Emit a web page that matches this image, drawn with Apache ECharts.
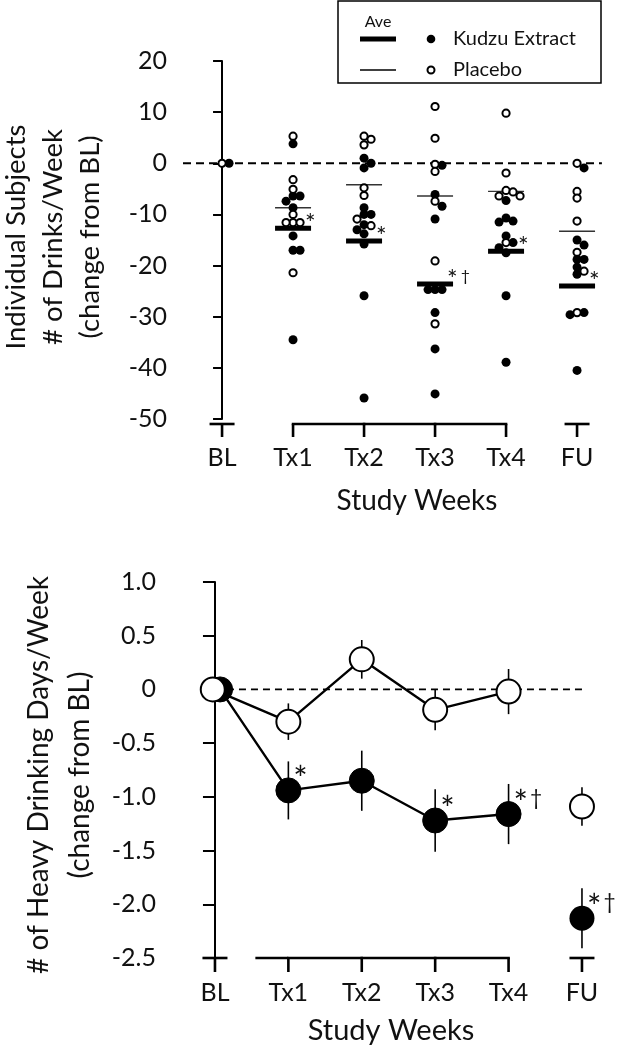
<!DOCTYPE html>
<html><head><meta charset="utf-8">
<script src="https://cdn.jsdelivr.net/npm/echarts@6/dist/echarts.min.js"></script>
<style>html,body{margin:0;padding:0;background:#fff}#c{width:619px;height:1050px}</style>
</head><body><div id="c"></div>
<script>
// ---------------- data ----------------
const weeks = ['BL', 'Tx1', 'Tx2', 'Tx3', 'Tx4', 'FU'];

// Top panel: individual subjects, change in # of drinks/week from BL
const kudzuDrinks = [
  [0],
  [3.8, -6.4, -6.4, -7.4, -8.7, -14.2, -17, -17, -34.5],
  [1.0, 0, -0.9, -8.7, -10, -10, -12, -13, -13.8, -15.8, -25.9, -45.9],
  [-0.4, -6.1, -8.4, -10.9, -24.7, -24.7, -24.7, -29.2, -36.3, -45.1],
  [-7.3, -10.7, -11.3, -11.5, -14.2, -15.5, -16.5, -17.5, -25.9, -38.9],
  [-0.9, -15, -16, -18.8, -18.8, -20.3, -21.7, -29.2, -29.6, -40.5]
];
const placeboDrinks = [
  [0],
  [5.3, -3.2, -5.1, -10, -11.6, -11.6, -11.6, -21.4],
  [5.3, 4.7, 3.6, -4.8, -6.3, -10.9, -12.2],
  [11.1, 4.9, -0.2, -1.6, -7.4, -19.1, -31.4],
  [9.8, -1.9, -5.3, -5.6, -6.4, -6.4, -15.5],
  [0, -5.5, -6.8, -11.3, -17.4, -21.1, -29.2]
];
const kudzuDrinksAve = [null, -12.7, -15.2, -23.6, -17.2, -24.0];
const placeboDrinksAve = [null, -8.7, -4.2, -6.4, -5.5, -13.3];
const drinksMarks = ['', '*', '*', '*†', '*', '*'];

// Bottom panel: heavy drinking days/week, change from BL (mean ± SEM)
const kudzuHDD = [0, -0.94, -0.85, -1.22, -1.16, -2.13];
const kudzuHDDErr = [0.27, 0.27, 0.28, 0.29, 0.28, 0.28];
const placeboHDD = [0, -0.30, 0.28, -0.19, -0.02, -1.09];
const placeboHDDErr = [0.28, 0.17, 0.18, 0.19, 0.21, 0.18];
const hddMarks = ['', '*', '', '*', '*†', '*†'];

// ---------------- layout / style ----------------
const FONT = 'Lato';
const INK = '#000';
const TXT = '#111';
const TOP = { left: 183, top: 61, height: 358, xMin: -0.55, xMax: 5.35, yMin: -50, yMax: 20, yInt: 10, unitPx: 71 };
const BOT = { left: 179, top: 582, height: 376, xMin: -0.49, xMax: 5.5, yMin: -2.5, yMax: 1.0, yInt: 0.5, unitPx: 73.4 };
TOP.width = (TOP.xMax - TOP.xMin) * TOP.unitPx;
BOT.width = (BOT.xMax - BOT.xMin) * BOT.unitPx;
const LAST = weeks.length - 1;

// beeswarm spread of the individual points (pixel offsets)
const PX_PER_UNIT = TOP.height / (TOP.yMax - TOP.yMin);
const SW_STEP = 7, SW_MIN = 6.2;
function buildSwarm() {
  const out = [];
  weeks.forEach((w, i) => {
    const items = [];
    placeboDrinks[i].forEach(v => items.push({ v, g: 0 }));
    kudzuDrinks[i].forEach(v => items.push({ v, g: 1 }));
    const order = items.slice().sort((a, b) => b.v - a.v);
    const placed = [];
    order.forEach(it => {
      const cands = [0, 1, -1, 2, -2, 3, -3, 4, -4];
      it.off = 0;
      for (const c of cands) {
        const off = c * SW_STEP;
        if (placed.every(q => Math.hypot(q.off - off, (q.v - it.v) * PX_PER_UNIT) >= SW_MIN)) { it.off = off; break; }
      }
      placed.push(it);
    });
    items.forEach(it => out.push([i, it.v, it.off, it.g]));
  });
  out.sort((a, b) => b[3] - a[3]); // filled first, open drawn on top
  return out;
}

function axisDeco(xi, yi, yBase, drop, tickLen, labelDy, leftExt, labelSize) {
  return {
    type: 'custom', xAxisIndex: xi, yAxisIndex: yi, silent: true, z: 1,
    data: weeks.map((w, i) => [i]),
    encode: { x: 0 },
    renderItem(params, api) {
      const i = params.dataIndex;
      const p = api.coord([i, yBase]);
      const x = p[0], y = p[1] + drop;
      const ls = { stroke: INK, lineWidth: 2.6 };
      const ch = [];
      ch.push({ type: 'line', shape: { x1: x, y1: y, x2: x, y2: y + tickLen }, style: ls });
      if (i === 0 || i === LAST) {
        ch.push({ type: 'line', shape: { x1: x - 12.5, y1: y, x2: x + 12.5, y2: y }, style: ls });
      } else {
        if (i < LAST - 1) {
          const q = api.coord([i + 1, yBase]);
          ch.push({ type: 'line', shape: { x1: x - 1.3, y1: y, x2: q[0] + 1.3, y2: y }, style: ls });
        }
        if (i === 1 && leftExt) {
          ch.push({ type: 'line', shape: { x1: x - leftExt, y1: y, x2: x, y2: y }, style: ls });
        }
      }
      ch.push({ type: 'text', style: { text: weeks[i], x: x, y: y + labelDy, align: 'center', verticalAlign: 'middle', font: labelSize + 'px ' + FONT, fill: TXT } });
      return { type: 'group', children: ch };
    }
  };
}

const yAxisCommon = (o) => ({
  type: 'value', gridIndex: o.g, min: o.min, max: o.max, interval: o.int,
  axisLine: { show: true, lineStyle: { color: INK, width: 2 } },
  axisTick: { show: true, length: o.tick, lineStyle: { color: INK, width: 2 } },
  splitLine: { show: false },
  axisLabel: { margin: o.margin, fontFamily: FONT, fontSize: o.fs, color: TXT, formatter: o.fmt }
});

const swarmData = buildSwarm();

const option = {
  animation: false,
  backgroundColor: '#fff',
  grid: [
    { left: TOP.left, top: TOP.top, width: TOP.width, height: TOP.height },
    { left: BOT.left, top: BOT.top, width: BOT.width, height: BOT.height }
  ],
  xAxis: [
    { type: 'value', gridIndex: 0, min: TOP.xMin, max: TOP.xMax, show: false },
    { type: 'value', gridIndex: 1, min: BOT.xMin, max: BOT.xMax, show: false }
  ],
  yAxis: [
    yAxisCommon({ g: 0, min: TOP.yMin, max: TOP.yMax, int: TOP.yInt, tick: 9, margin: 16, fs: 25, fmt: v => String(v) }),
    yAxisCommon({ g: 1, min: BOT.yMin, max: BOT.yMax, int: BOT.yInt, tick: 12, margin: 23, fs: 25, fmt: v => (v === 0 ? '0' : v.toFixed(1)) })
  ],
  graphic: [
    { type: 'text', x: 53, y: 237, rotation: Math.PI / 2,
      style: { text: 'Individual Subjects\n# of Drinks/Week\n(change from BL)', align: 'center', verticalAlign: 'middle', font: '27.5px ' + FONT, lineHeight: 37, fill: TXT } },
    { type: 'text', x: 59, y: 775, rotation: Math.PI / 2,
      style: { text: '# of Heavy Drinking Days/Week\n(change from BL)', align: 'center', verticalAlign: 'middle', font: '28px ' + FONT, lineHeight: 41, fill: TXT } },
    { type: 'text', x: 417, y: 501, style: { text: 'Study Weeks', align: 'center', verticalAlign: 'middle', font: '28px ' + FONT, fill: TXT } },
    { type: 'text', x: 391, y: 1031, style: { text: 'Study Weeks', align: 'center', verticalAlign: 'middle', font: '29px ' + FONT, fill: TXT } },
    { type: 'group', children: [
      { type: 'rect', shape: { x: 338, y: 1, width: 263, height: 82 }, style: { fill: '#fff', stroke: INK, lineWidth: 1.5 } },
      { type: 'text', style: { text: 'Ave', x: 378, y: 22, align: 'center', verticalAlign: 'middle', font: '16px ' + FONT, fill: TXT } },
      { type: 'line', shape: { x1: 360, y1: 39, x2: 396, y2: 39 }, style: { stroke: INK, lineWidth: 5 } },
      { type: 'line', shape: { x1: 360, y1: 70, x2: 396, y2: 70 }, style: { stroke: INK, lineWidth: 1.3 } },
      { type: 'circle', shape: { cx: 431, cy: 39, r: 4.3 }, style: { fill: INK } },
      { type: 'circle', shape: { cx: 431, cy: 70, r: 3.5 }, style: { fill: '#fff', stroke: INK, lineWidth: 2 } },
      { type: 'text', style: { text: 'Kudzu Extract', x: 453, y: 39, align: 'left', verticalAlign: 'middle', font: '20px ' + FONT, fill: TXT } },
      { type: 'text', style: { text: 'Placebo', x: 453, y: 70, align: 'left', verticalAlign: 'middle', font: '20px ' + FONT, fill: TXT } }
    ] }
  ],
  series: [
    // ---- top panel ----
    { type: 'line', xAxisIndex: 0, yAxisIndex: 0, data: [[TOP.xMin, 0], [TOP.xMax, 0]], symbol: 'none', silent: true, z: 1,
      lineStyle: { color: INK, width: 2, type: [8, 5] } },
    axisDeco(0, 0, TOP.yMin, 5, 13, 33.5, 0, 25),
    { // average bars
      type: 'custom', xAxisIndex: 0, yAxisIndex: 0, z: 2,
      data: weeks.map((w, i) => [i, kudzuDrinksAve[i], placeboDrinksAve[i]]),
      encode: { x: 0, y: [1, 2] },
      renderItem(params, api) {
        const i = params.dataIndex;
        if (kudzuDrinksAve[i] == null) return null;
        const pk = api.coord([i, kudzuDrinksAve[i]]);
        const pp = api.coord([i, placeboDrinksAve[i]]);
        return { type: 'group', children: [
          { type: 'line', shape: { x1: pp[0] - 18, y1: pp[1], x2: pp[0] + 18, y2: pp[1] }, style: { stroke: '#333', lineWidth: 1.4 } },
          { type: 'rect', shape: { x: pk[0] - 18, y: pk[1] - 2.5, width: 36, height: 5 }, style: { fill: INK } }
        ] };
      }
    },
    { // individual subjects
      type: 'custom', xAxisIndex: 0, yAxisIndex: 0, z: 3,
      data: swarmData,
      encode: { x: 0, y: 1 },
      renderItem(params, api) {
        const p = api.coord([api.value(0), api.value(1)]);
        const off = api.value(2), g = api.value(3);
        return g === 1
          ? { type: 'circle', shape: { cx: p[0] + off, cy: p[1], r: 4.5 }, style: { fill: INK } }
          : { type: 'circle', shape: { cx: p[0] + off, cy: p[1], r: 3.6 }, style: { fill: '#fff', stroke: INK, lineWidth: 2 } };
      }
    },
    { // significance marks
      type: 'custom', xAxisIndex: 0, yAxisIndex: 0, z: 4,
      data: weeks.map((w, i) => [i, kudzuDrinksAve[i]]),
      encode: { x: 0, y: 1 },
      renderItem(params, api) {
        const i = params.dataIndex;
        if (!drinksMarks[i]) return null;
        const p = api.coord([i, kudzuDrinksAve[i]]);
        const s = drinksMarks[i];
        return { type: 'text', style: {
          text: '{a|*}' + (s.length > 1 ? '{b|†}' : ''), x: p[0] + 12, y: p[1] - 4, align: 'left', verticalAlign: 'middle',
          rich: { a: { fontSize: 25, fontFamily: FONT, fill: TXT }, b: { fontSize: 16, fontFamily: FONT, fill: TXT, padding: [0, 0, 9, 3] } } } };
      }
    },
    // ---- bottom panel ----
    { type: 'line', xAxisIndex: 1, yAxisIndex: 1, data: [[0, 0], [LAST, 0]], symbol: 'none', silent: true, z: 1,
      lineStyle: { color: INK, width: 1.8, type: [7, 5] } },
    axisDeco(1, 1, BOT.yMin, 0, 14, 35, 33, 25),
    { // error bars
      type: 'custom', xAxisIndex: 1, yAxisIndex: 1, z: 2,
      data: weeks.map((w, i) => [i, kudzuHDD[i], placeboHDD[i]]),
      encode: { x: 0, y: [1, 2] },
      renderItem(params, api) {
        const i = params.dataIndex;
        const seg = (v, e) => {
          const a = api.coord([i, v + e]), b = api.coord([i, v - e]);
          return { type: 'line', shape: { x1: a[0], y1: a[1], x2: b[0], y2: b[1] }, style: { stroke: INK, lineWidth: 1.6 } };
        };
        return { type: 'group', children: [seg(kudzuHDD[i], kudzuHDDErr[i]), seg(placeboHDD[i], placeboHDDErr[i])] };
      }
    },
    { name: 'Kudzu Extract', type: 'line', xAxisIndex: 1, yAxisIndex: 1, z: 3,
      data: kudzuHDD.slice(0, LAST).map((v, i) => [i + (i === 0 ? 0.07 : 0), v]),
      symbol: 'circle', symbolSize: 25, lineStyle: { color: INK, width: 2.4 },
      itemStyle: { color: INK, borderColor: INK, borderWidth: 1, opacity: 1 } },
    { type: 'scatter', xAxisIndex: 1, yAxisIndex: 1, z: 3,
      data: [[LAST, kudzuHDD[LAST]]], symbol: 'circle', symbolSize: 25, itemStyle: { color: INK, opacity: 1 } },
    { name: 'Placebo', type: 'line', xAxisIndex: 1, yAxisIndex: 1, z: 4,
      data: placeboHDD.slice(0, LAST).map((v, i) => [i + (i === 0 ? -0.03 : 0), v]),
      symbol: 'circle', symbolSize: 24, lineStyle: { color: INK, width: 2.4 },
      itemStyle: { color: '#fff', borderColor: INK, borderWidth: 2, opacity: 1 } },
    { type: 'scatter', xAxisIndex: 1, yAxisIndex: 1, z: 4,
      data: [[LAST, placeboHDD[LAST]]], symbol: 'circle', symbolSize: 24,
      itemStyle: { color: '#fff', borderColor: INK, borderWidth: 2, opacity: 1 } },
    { // significance marks
      type: 'custom', xAxisIndex: 1, yAxisIndex: 1, z: 5,
      data: weeks.map((w, i) => [i, kudzuHDD[i]]),
      encode: { x: 0, y: 1 },
      renderItem(params, api) {
        const i = params.dataIndex;
        if (!hddMarks[i]) return null;
        const p = api.coord([i, kudzuHDD[i]]);
        const s = hddMarks[i];
        return { type: 'text', style: {
          text: '{a|*}' + (s.length > 1 ? '{b|†}' : ''), x: p[0] + 5, y: p[1] - 10, align: 'left', verticalAlign: 'middle',
          rich: { a: { fontSize: 34, fontFamily: FONT, fill: TXT }, b: { fontSize: 21, fontFamily: FONT, fill: TXT, padding: [0, 0, 12, 2] } } } };
      }
    }
  ]
};

const chart = echarts.init(document.getElementById('c'), null, { renderer: 'canvas' });
chart.setOption(option);
</script>
</body></html>
